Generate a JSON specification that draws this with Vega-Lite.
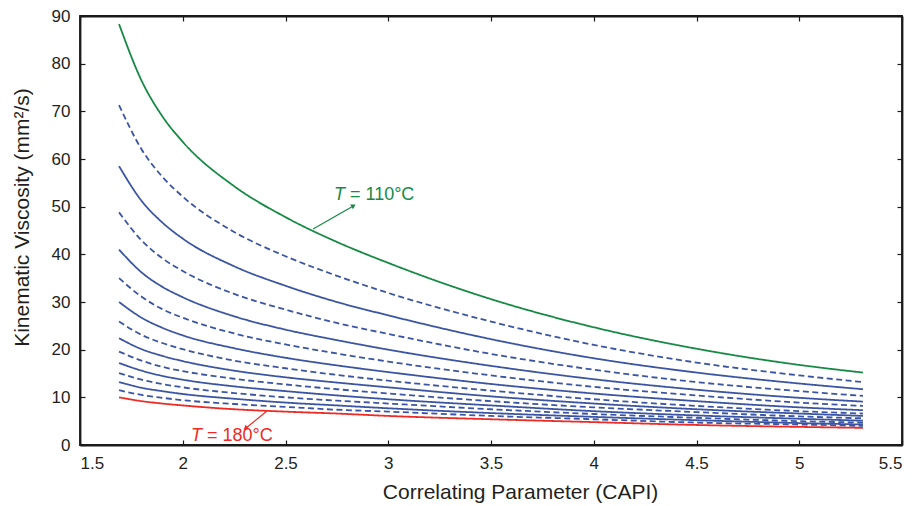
{
  "$schema": "https://vega.github.io/schema/vega-lite/v6.json",
  "width": 822,
  "height": 429,
  "autosize": {"type": "none"},
  "padding": {"left": 80, "top": 16, "right": 15, "bottom": 61},
  "config": {
    "view": {"stroke": "#1a1a1a", "strokeWidth": 1.8},
    "font": "Liberation Sans",
    "axis": {
      "grid": false,
      "domain": true,
      "domainColor": "#1a1a1a",
      "domainWidth": 1.8,
      "ticks": true,
      "tickColor": "#1a1a1a",
      "tickWidth": 1.2,
      "labelFont": "Liberation Sans",
      "labelFontSize": 17,
      "labelColor": "#231f20",
      "titleFont": "Liberation Sans",
      "titleFontSize": 21,
      "titleFontWeight": "normal",
      "titleColor": "#231f20"
    }
  },
  "datasets": {
    "curves": [
      {"T":110,"x":1.69,"y":88.3},{"T":110,"x":1.8,"y":76.4},{"T":110,"x":1.9,"y":69.0},{"T":110,"x":2.0,"y":63.6},{"T":110,"x":2.25,"y":54.3},{"T":110,"x":2.5,"y":47.8},{"T":110,"x":2.75,"y":42.6},{"T":110,"x":3.0,"y":38.2},{"T":110,"x":3.5,"y":30.6},{"T":110,"x":4.0,"y":24.7},{"T":110,"x":4.5,"y":20.2},{"T":110,"x":5.0,"y":16.8},{"T":110,"x":5.31,"y":15.2},
      {"T":115,"x":1.69,"y":71.3},{"T":115,"x":1.8,"y":62.0},{"T":115,"x":1.9,"y":56.3},{"T":115,"x":2.0,"y":52.1},{"T":115,"x":2.25,"y":44.7},{"T":115,"x":2.5,"y":39.6},{"T":115,"x":2.75,"y":35.5},{"T":115,"x":3.0,"y":31.9},{"T":115,"x":3.5,"y":25.9},{"T":115,"x":4.0,"y":21.0},{"T":115,"x":4.5,"y":17.3},{"T":115,"x":5.0,"y":14.6},{"T":115,"x":5.31,"y":13.2},
      {"T":120,"x":1.69,"y":58.5},{"T":120,"x":1.8,"y":51.2},{"T":120,"x":1.9,"y":46.7},{"T":120,"x":2.0,"y":43.3},{"T":120,"x":2.25,"y":37.5},{"T":120,"x":2.5,"y":33.4},{"T":120,"x":2.75,"y":30.0},{"T":120,"x":3.0,"y":27.2},{"T":120,"x":3.5,"y":22.2},{"T":120,"x":4.0,"y":18.2},{"T":120,"x":4.5,"y":15.2},{"T":120,"x":5.0,"y":12.9},{"T":120,"x":5.31,"y":11.7},
      {"T":125,"x":1.69,"y":48.8},{"T":125,"x":1.8,"y":42.9},{"T":125,"x":1.9,"y":39.2},{"T":125,"x":2.0,"y":36.5},{"T":125,"x":2.25,"y":31.7},{"T":125,"x":2.5,"y":28.4},{"T":125,"x":2.75,"y":25.6},{"T":125,"x":3.0,"y":23.3},{"T":125,"x":3.5,"y":19.1},{"T":125,"x":4.0,"y":15.8},{"T":125,"x":4.5,"y":13.2},{"T":125,"x":5.0,"y":11.3},{"T":125,"x":5.31,"y":10.3},
      {"T":130,"x":1.69,"y":41.0},{"T":130,"x":1.8,"y":36.2},{"T":130,"x":1.9,"y":33.2},{"T":130,"x":2.0,"y":31.0},{"T":130,"x":2.25,"y":27.0},{"T":130,"x":2.5,"y":24.2},{"T":130,"x":2.75,"y":22.0},{"T":130,"x":3.0,"y":20.0},{"T":130,"x":3.5,"y":16.6},{"T":130,"x":4.0,"y":13.8},{"T":130,"x":4.5,"y":11.6},{"T":130,"x":5.0,"y":9.9},{"T":130,"x":5.31,"y":9.1},
      {"T":135,"x":1.69,"y":35.0},{"T":135,"x":1.8,"y":31.1},{"T":135,"x":1.9,"y":28.5},{"T":135,"x":2.0,"y":26.7},{"T":135,"x":2.25,"y":23.4},{"T":135,"x":2.5,"y":21.1},{"T":135,"x":2.75,"y":19.2},{"T":135,"x":3.0,"y":17.5},{"T":135,"x":3.5,"y":14.6},{"T":135,"x":4.0,"y":12.2},{"T":135,"x":4.5,"y":10.4},{"T":135,"x":5.0,"y":8.9},{"T":135,"x":5.31,"y":8.2},
      {"T":140,"x":1.69,"y":30.0},{"T":140,"x":1.8,"y":26.7},{"T":140,"x":1.9,"y":24.6},{"T":140,"x":2.0,"y":23.0},{"T":140,"x":2.25,"y":20.3},{"T":140,"x":2.5,"y":18.3},{"T":140,"x":2.75,"y":16.7},{"T":140,"x":3.0,"y":15.3},{"T":140,"x":3.5,"y":12.8},{"T":140,"x":4.0,"y":10.8},{"T":140,"x":4.5,"y":9.2},{"T":140,"x":5.0,"y":7.9},{"T":140,"x":5.31,"y":7.3},
      {"T":145,"x":1.69,"y":25.9},{"T":145,"x":1.8,"y":23.1},{"T":145,"x":1.9,"y":21.4},{"T":145,"x":2.0,"y":20.1},{"T":145,"x":2.25,"y":17.7},{"T":145,"x":2.5,"y":16.1},{"T":145,"x":2.75,"y":14.7},{"T":145,"x":3.0,"y":13.5},{"T":145,"x":3.5,"y":11.4},{"T":145,"x":4.0,"y":9.6},{"T":145,"x":4.5,"y":8.2},{"T":145,"x":5.0,"y":7.1},{"T":145,"x":5.31,"y":6.6},
      {"T":150,"x":1.69,"y":22.4},{"T":150,"x":1.8,"y":20.1},{"T":150,"x":1.9,"y":18.7},{"T":150,"x":2.0,"y":17.6},{"T":150,"x":2.25,"y":15.6},{"T":150,"x":2.5,"y":14.2},{"T":150,"x":2.75,"y":13.1},{"T":150,"x":3.0,"y":12.1},{"T":150,"x":3.5,"y":10.2},{"T":150,"x":4.0,"y":8.7},{"T":150,"x":4.5,"y":7.5},{"T":150,"x":5.0,"y":6.6},{"T":150,"x":5.31,"y":6.1},
      {"T":155,"x":1.69,"y":19.6},{"T":155,"x":1.8,"y":17.7},{"T":155,"x":1.9,"y":16.4},{"T":155,"x":2.0,"y":15.5},{"T":155,"x":2.25,"y":13.9},{"T":155,"x":2.5,"y":12.7},{"T":155,"x":2.75,"y":11.7},{"T":155,"x":3.0,"y":10.8},{"T":155,"x":3.5,"y":9.2},{"T":155,"x":4.0,"y":7.9},{"T":155,"x":4.5,"y":6.9},{"T":155,"x":5.0,"y":6.0},{"T":155,"x":5.31,"y":5.6},
      {"T":160,"x":1.69,"y":17.2},{"T":160,"x":1.8,"y":15.6},{"T":160,"x":1.9,"y":14.5},{"T":160,"x":2.0,"y":13.7},{"T":160,"x":2.25,"y":12.3},{"T":160,"x":2.5,"y":11.3},{"T":160,"x":2.75,"y":10.4},{"T":160,"x":3.0,"y":9.6},{"T":160,"x":3.5,"y":8.3},{"T":160,"x":4.0,"y":7.1},{"T":160,"x":4.5,"y":6.2},{"T":160,"x":5.0,"y":5.5},{"T":160,"x":5.31,"y":5.1},
      {"T":165,"x":1.69,"y":15.1},{"T":165,"x":1.8,"y":13.7},{"T":165,"x":1.9,"y":12.8},{"T":165,"x":2.0,"y":12.1},{"T":165,"x":2.25,"y":10.9},{"T":165,"x":2.5,"y":10.0},{"T":165,"x":2.75,"y":9.3},{"T":165,"x":3.0,"y":8.7},{"T":165,"x":3.5,"y":7.5},{"T":165,"x":4.0,"y":6.5},{"T":165,"x":4.5,"y":5.7},{"T":165,"x":5.0,"y":5.0},{"T":165,"x":5.31,"y":4.7},
      {"T":170,"x":1.69,"y":13.2},{"T":170,"x":1.8,"y":12.0},{"T":170,"x":1.9,"y":11.3},{"T":170,"x":2.0,"y":10.7},{"T":170,"x":2.25,"y":9.7},{"T":170,"x":2.5,"y":8.9},{"T":170,"x":2.75,"y":8.3},{"T":170,"x":3.0,"y":7.7},{"T":170,"x":3.5,"y":6.7},{"T":170,"x":4.0,"y":5.9},{"T":170,"x":4.5,"y":5.2},{"T":170,"x":5.0,"y":4.6},{"T":170,"x":5.31,"y":4.3},
      {"T":175,"x":1.69,"y":11.5},{"T":175,"x":1.8,"y":10.5},{"T":175,"x":1.9,"y":9.9},{"T":175,"x":2.0,"y":9.4},{"T":175,"x":2.25,"y":8.6},{"T":175,"x":2.5,"y":8.0},{"T":175,"x":2.75,"y":7.4},{"T":175,"x":3.0,"y":7.0},{"T":175,"x":3.5,"y":6.1},{"T":175,"x":4.0,"y":5.4},{"T":175,"x":4.5,"y":4.7},{"T":175,"x":5.0,"y":4.3},{"T":175,"x":5.31,"y":4.0},
      {"T":180,"x":1.69,"y":10.0},{"T":180,"x":1.8,"y":9.2},{"T":180,"x":1.9,"y":8.7},{"T":180,"x":2.0,"y":8.3},{"T":180,"x":2.25,"y":7.5},{"T":180,"x":2.5,"y":7.0},{"T":180,"x":2.75,"y":6.6},{"T":180,"x":3.0,"y":6.1},{"T":180,"x":3.5,"y":5.4},{"T":180,"x":4.0,"y":4.8},{"T":180,"x":4.5,"y":4.2},{"T":180,"x":5.0,"y":3.8},{"T":180,"x":5.31,"y":3.6}
    ],
    "arrows": [
      {"label":"110","x":2.634,"y":45.3},{"label":"110","x":2.828,"y":50.1},
      {"label":"180","x":2.41,"y":7.13},{"label":"180","x":2.308,"y":3.57}
    ],
    "heads": [
      {"label":"110","x":2.828,"y":50.1},
      {"label":"180","x":2.308,"y":3.57}
    ],
    "labels": [
      {"label":"110","x":2.799,"y":52.4,"rest":"= 110°C"},
      {"label":"180","x":2.103,"y":1.9,"rest":"= 180°C"}
    ]
  },
  "layer": [
    {
      "data": {"name": "curves"},
      "mark": {"type": "line", "interpolate": "monotone", "strokeWidth": 1.8},
      "encoding": {
        "x": {"field": "x", "type": "quantitative", "scale": {"domain": [1.5, 5.5], "nice": false},
              "axis": {"orient": "bottom", "values": [1.5, 2, 2.5, 3, 3.5, 4, 4.5, 5, 5.5], "format": "~g", "title": "Correlating Parameter (CAPI)", "tickSize": -5, "labelPadding": 15, "titlePadding": 10, "titleX": 440, "titleAlign": "center"}},
        "y": {"field": "y", "type": "quantitative", "scale": {"domain": [0, 90], "nice": false},
              "axis": {"orient": "left", "values": [0, 10, 20, 30, 40, 50, 60, 70, 80, 90], "title": "Kinematic Viscosity (mm²/s)", "tickSize": -5, "labelPadding": 15, "titlePadding": 19, "titleY": 201, "titleAlign": "center"}},
        "detail": {"field": "T", "type": "nominal"},
        "color": {"condition": [{"test": "datum.T == 110", "value": "#168a45"}, {"test": "datum.T == 180", "value": "#ee2a24"}], "value": "#3b55a3"},
        "strokeDash": {"condition": {"test": "datum.T % 10 == 5", "value": [6, 3.5]}, "value": [1, 0]}
      }
    },
    {
      "data": {"name": "arrows"},
      "mark": {"type": "line", "strokeWidth": 1.2},
      "encoding": {
        "x": {"field": "x", "type": "quantitative", "axis": null},
        "y": {"field": "y", "type": "quantitative", "axis": null},
        "detail": {"field": "label", "type": "nominal"},
        "color": {"condition": {"test": "datum.label == '110'", "value": "#168a45"}, "value": "#ee2a24"}
      }
    },
    {
      "data": {"name": "heads"},
      "mark": {"type": "point", "shape": "triangle", "filled": true, "size": 30, "opacity": 1},
      "encoding": {
        "x": {"field": "x", "type": "quantitative", "axis": null},
        "y": {"field": "y", "type": "quantitative", "axis": null},
        "angle": {"condition": {"test": "datum.label == '110'", "value": 60}, "value": 231},
        "color": {"condition": {"test": "datum.label == '110'", "value": "#168a45"}, "value": "#ee2a24"}
      }
    },
    {
      "data": {"name": "labels"},
      "mark": {"type": "text", "fontStyle": "italic", "fontSize": 18, "align": "right", "baseline": "middle", "dx": -2, "font": "Liberation Sans"},
      "encoding": {
        "x": {"field": "x", "type": "quantitative",
              "axis": {"orient": "top", "labels": false, "title": null, "tickSize": -5, "values": [1.5, 2, 2.5, 3, 3.5, 4, 4.5, 5, 5.5]}},
        "y": {"field": "y", "type": "quantitative",
              "axis": {"orient": "right", "labels": false, "title": null, "tickSize": -5, "values": [0, 10, 20, 30, 40, 50, 60, 70, 80, 90]}},
        "text": {"value": "T"},
        "color": {"condition": {"test": "datum.label == '110'", "value": "#168a45"}, "value": "#ee2a24"}
      }
    },
    {
      "data": {"name": "labels"},
      "mark": {"type": "text", "fontSize": 18, "align": "left", "baseline": "middle", "dx": 3, "font": "Liberation Sans"},
      "encoding": {
        "x": {"field": "x", "type": "quantitative", "axis": null},
        "y": {"field": "y", "type": "quantitative", "axis": null},
        "text": {"field": "rest"},
        "color": {"condition": {"test": "datum.label == '110'", "value": "#168a45"}, "value": "#ee2a24"}
      }
    }
  ],
  "resolve": {"axis": {"x": "independent", "y": "independent"}}
}
